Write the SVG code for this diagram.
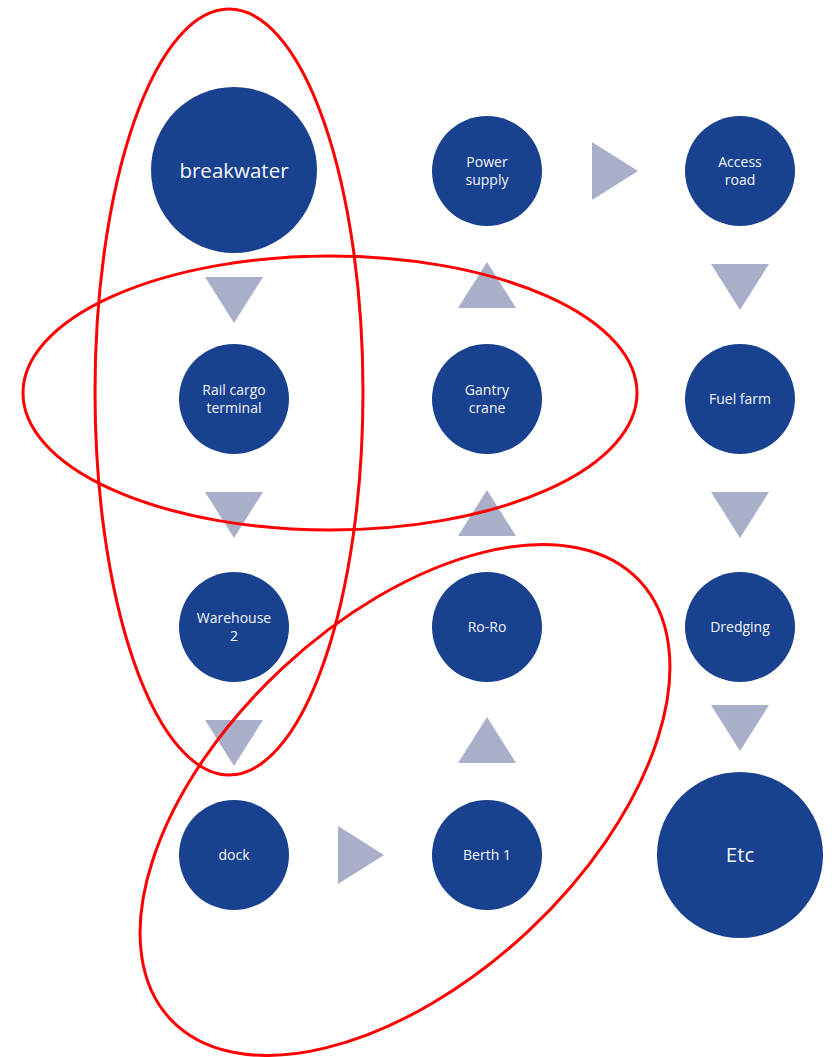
<svg xmlns="http://www.w3.org/2000/svg" width="836" height="1057" viewBox="0 0 836 1057">
  <style>
    .node { fill: #18418F; }
    .lbl { fill: #F4F6FB; font-family: "Open Sans", "Noto Sans", sans-serif; font-size: 14px; text-anchor: middle; }
    .lbl-lg { fill: #F4F6FB; font-family: "Open Sans", "Noto Sans", sans-serif; font-size: 20.5px; text-anchor: middle; }
    .arrow { fill: #AAAFC9; }
    .ring { fill: none; stroke: #FF0000; stroke-width: 3; }
  </style>
  <defs>
    <polygon id="tri-down" points="-29,-23 29,-23 0,23"/>
    <polygon id="tri-up" points="-29,23 29,23 0,-23"/>
    <polygon id="tri-right" points="-23,-29 23,0 -23,29"/>
  </defs>
  <rect width="836" height="1057" fill="#FFFFFF"/>

  <!-- flow arrows between nodes -->
  <g id="connectors">
    <use href="#tri-down" class="arrow" x="234" y="300"/>
    <use href="#tri-down" class="arrow" x="234" y="515"/>
    <use href="#tri-down" class="arrow" x="234" y="743"/>
    <use href="#tri-right" class="arrow" x="361" y="855"/>
    <use href="#tri-up" class="arrow" x="487" y="740"/>
    <use href="#tri-up" class="arrow" x="487" y="513"/>
    <use href="#tri-up" class="arrow" x="487" y="285"/>
    <use href="#tri-right" class="arrow" x="615" y="171"/>
    <use href="#tri-down" class="arrow" x="740" y="287"/>
    <use href="#tri-down" class="arrow" x="740" y="515"/>
    <use href="#tri-down" class="arrow" x="740" y="728"/>
  </g>

  <!-- column 1 -->
  <g id="breakwater">
    <circle class="node" cx="234" cy="170" r="83"/>
    <text class="lbl-lg" x="234" y="177.5">breakwater</text>
  </g>
  <g id="rail-cargo-terminal">
    <circle class="node" cx="234" cy="399" r="55"/>
    <text class="lbl" x="234" y="395">Rail cargo</text>
    <text class="lbl" x="234" y="413">terminal</text>
  </g>
  <g id="warehouse-2">
    <circle class="node" cx="234" cy="627" r="55"/>
    <text class="lbl" x="234" y="623">Warehouse</text>
    <text class="lbl" x="234" y="641">2</text>
  </g>
  <g id="dock">
    <circle class="node" cx="234" cy="855" r="55"/>
    <text class="lbl" x="234" y="860">dock</text>
  </g>

  <!-- column 2 -->
  <g id="power-supply">
    <circle class="node" cx="487" cy="171" r="55"/>
    <text class="lbl" x="487" y="167">Power</text>
    <text class="lbl" x="487" y="185">supply</text>
  </g>
  <g id="gantry-crane">
    <circle class="node" cx="487" cy="399" r="55"/>
    <text class="lbl" x="487" y="395">Gantry</text>
    <text class="lbl" x="487" y="413">crane</text>
  </g>
  <g id="ro-ro">
    <circle class="node" cx="487" cy="627" r="55"/>
    <text class="lbl" x="487" y="632">Ro-Ro</text>
  </g>
  <g id="berth-1">
    <circle class="node" cx="487" cy="855" r="55"/>
    <text class="lbl" x="487" y="860">Berth 1</text>
  </g>

  <!-- column 3 -->
  <g id="access-road">
    <circle class="node" cx="740" cy="171" r="55"/>
    <text class="lbl" x="740" y="167">Access</text>
    <text class="lbl" x="740" y="185">road</text>
  </g>
  <g id="fuel-farm">
    <circle class="node" cx="740" cy="399" r="55"/>
    <text class="lbl" x="740" y="404">Fuel farm</text>
  </g>
  <g id="dredging">
    <circle class="node" cx="740" cy="627" r="55"/>
    <text class="lbl" x="740" y="632">Dredging</text>
  </g>
  <g id="etc">
    <circle class="node" cx="740" cy="855" r="83"/>
    <text class="lbl-lg" x="740" y="862">Etc</text>
  </g>

  <!-- red outlines grouping related nodes -->
  <g id="groupings">
    <ellipse class="ring" cx="229" cy="392" rx="134" ry="383"/>
    <ellipse class="ring" cx="330" cy="393" rx="307" ry="137"/>
    <ellipse class="ring" cx="405" cy="800" rx="321" ry="180" transform="rotate(-43 405 800)"/>
  </g>
</svg>
